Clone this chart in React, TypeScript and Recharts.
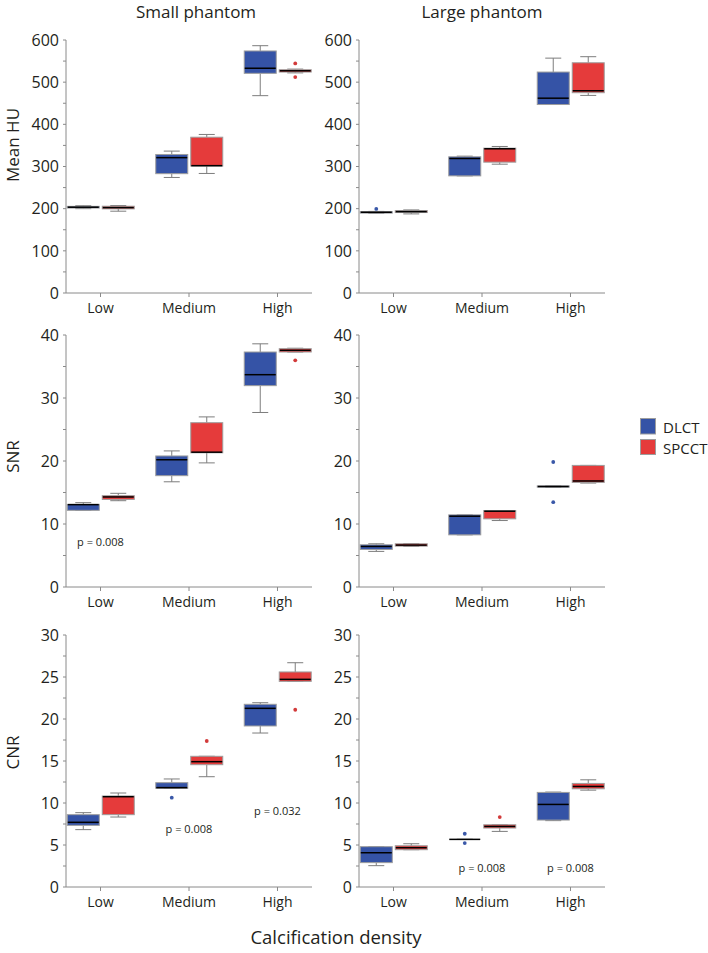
import React from 'react';
import { ComposedChart, Bar, XAxis, YAxis, Scatter } from 'recharts';

const FONT = '"Open Sans", "Noto Sans", sans-serif';
const TXT = '#231f20';
const AXIS = '#8a8a8a';
const WHISK = '#7d7d7d';
const BORDER = '#9d9d9d';
const BLUE = '#3553a6';
const RED = '#e53b3b';
const BLUE_DOT = '#3a58a8';
const RED_DOT = '#d23a3a';

const categories = ['Low', 'Medium', 'High'];
const seriesNames = ['DLCT', 'SPCCT'];
const columnTitles = ['Small phantom', 'Large phantom'];
const rowTitles = ['Mean HU', 'SNR', 'CNR'];
const xTitle = 'Calcification density';

// Box statistics per category: [min, q1, median, q3, max]
const smallHuDlct = [[200, 201.5, 203.5, 205.5, 207], [274, 283, 321, 328.5, 336.5], [468, 521, 533, 574, 586.5]];
const smallHuSpcct = [[194, 199.5, 202.5, 205.8, 207.4], [283.5, 301, 302, 369.5, 376], [522, 524, 527, 529.5, 531]];
const smallHuDlctOut = [[], [], []];
const smallHuSpcctOut = [[], [], [512, 544.5]];

const largeHuDlct = [[189, 189.5, 191.5, 193, 193.5], [277.8, 277.8, 319, 323, 324.5], [447, 447, 462, 524, 557]];
const largeHuSpcct = [[187.6, 190.8, 193, 195.5, 197], [305.5, 310.3, 342, 343.5, 347.5], [468.6, 475, 479.7, 546, 560.4]];
const largeHuDlctOut = [[199.5], [], []];
const largeHuSpcctOut = [[], [], []];

const smallSnrDlct = [[12.17, 12.17, 13.07, 13.12, 13.39], [16.7, 17.67, 20.2, 20.8, 21.6], [27.7, 31.96, 33.7, 37.3, 38.6]];
const smallSnrSpcct = [[13.7, 13.9, 14.29, 14.5, 14.87], [19.7, 21.3, 21.4, 26.08, 27], [37.3, 37.3, 37.57, 37.83, 37.9]];
const smallSnrDlctOut = [[], [], []];
const smallSnrSpcctOut = [[], [], [35.98]];

const largeSnrDlct = [[5.65, 5.96, 6.44, 6.7, 6.86], [8.28, 8.28, 11.24, 11.45, 11.45], [15.85, 15.85, 15.95, 16.05, 16.05]];
const largeSnrSpcct = [[6.45, 6.49, 6.65, 6.86, 6.9], [10.55, 10.82, 12.03, 12.14, 12.14], [16.5, 16.6, 16.83, 19.3, 19.3]];
const largeSnrDlctOut = [[], [], [19.84, 13.46]];
const largeSnrSpcctOut = [[], [], []];

const smallCnrDlct = [[6.83, 7.34, 7.7, 8.61, 8.85], [11.75, 11.75, 11.83, 12.42, 12.86], [18.33, 19.17, 21.27, 21.75, 21.94]];
const smallCnrSpcct = [[8.33, 8.61, 10.75, 10.83, 11.19], [13.13, 14.56, 14.92, 15.56, 15.56], [24.48, 24.48, 24.72, 25.6, 26.7]];
const smallCnrDlctOut = [[], [10.63], []];
const smallCnrSpcctOut = [[], [17.38], [21.1]];

const largeCnrDlct = [[2.54, 2.9, 4.08, 4.8, 4.8], [5.67, 5.67, 5.67, 5.67, 5.67], [7.9, 7.97, 9.83, 11.26, 11.3]];
const largeCnrSpcct = [[4.44, 4.44, 4.68, 4.91, 5.15], [6.62, 7.02, 7.21, 7.41, 7.41], [11.53, 11.69, 11.97, 12.33, 12.76]];
const largeCnrDlctOut = [[], [6.34, 5.23], []];
const largeCnrSpcctOut = [[], [8.32], []];

// p-value annotations: [category index, value, text]
const smallSnrP = [[1, 7.25, 'p = 0.008']];
const smallCnrP = [[2, 6.94, 'p = 0.008'], [3, 9.05, 'p = 0.032']];
const largeCnrP = [[2, 2.38, 'p = 0.008'], [3, 2.38, 'p = 0.008']];

// Axis tick settings
const huTicks = [0, 50, 100, 150, 200, 250, 300, 350, 400, 450, 500, 550, 600];
const snrTicks = [0, 5, 10, 15, 20, 25, 30, 35, 40];
const cnrTicks = [0, 2.5, 5, 7.5, 10, 12.5, 15, 17.5, 20, 22.5, 25, 27.5, 30];

type Stats = number[];

function buildRows(d: Stats[], s: Stats[], dOut: number[][], sOut: number[][]) {
  return categories.map((c, i) => ({
    x: i + 1,
    name: c,
    dTop: Math.max(d[i][4], ...dOut[i]),
    sTop: Math.max(s[i][4], ...sOut[i]),
    d: d[i],
    s: s[i],
    dOut: dOut[i],
    sOut: sOut[i],
  }));
}

const makeBox = (key: 'd' | 's', fill: string, dot: string) => (props: any) => {
  const { x, y, width, height, payload } = props;
  const top = payload[key + 'Top'];
  if (!height || !top) return <g />;
  const y0 = y + height;
  const k = height / top;
  const py = (v: number) => y0 - v * k;
  const [mn, q1, md, q3, mx] = payload[key] as number[];
  const outs = payload[key + 'Out'] as number[];
  const cx = x + width / 2;
  const cap = width / 4;
  return (
    <g>
      <line x1={cx} x2={cx} y1={py(mx)} y2={py(q3)} stroke={WHISK} strokeWidth={1} />
      <line x1={cx} x2={cx} y1={py(q1)} y2={py(mn)} stroke={WHISK} strokeWidth={1} />
      <line x1={cx - cap} x2={cx + cap} y1={py(mx)} y2={py(mx)} stroke={WHISK} strokeWidth={1} />
      <line x1={cx - cap} x2={cx + cap} y1={py(mn)} y2={py(mn)} stroke={WHISK} strokeWidth={1} />
      <rect x={x} y={py(q3)} width={width} height={Math.max(py(q1) - py(q3), 0)} fill={fill} stroke={BORDER} strokeWidth={1} />
      <line x1={x + 0.5} x2={x + width - 0.5} y1={py(md)} y2={py(md)} stroke="#000" strokeWidth={1.5} />
      {outs.map((v, i) => (
        <circle key={i} cx={cx} cy={py(v)} r={1.9} fill={dot} />
      ))}
    </g>
  );
};

const dlctBox = makeBox('d', BLUE, BLUE_DOT);
const spcctBox = makeBox('s', RED, RED_DOT);

const pShape = (props: any) => {
  const { cx, cy, payload } = props;
  return (
    <text x={cx} y={cy} textAnchor="middle" dominantBaseline="central" fontSize={11} fontFamily={FONT} fill={TXT}>
      {payload.text}
    </text>
  );
};

type PanelProps = {
  plotLeft: number;
  plotTop: number;
  plotH: number;
  rows: any[];
  ticks: number[];
  major: number;
  pLabels?: any[];
};

const PLOT_W = 246;
const Y_W = 66;
const M_TOP = 14;

function Panel({ plotLeft, plotTop, plotH, rows, ticks, major, pLabels }: PanelProps) {
  const w = Y_W + PLOT_W + 6;
  const h = M_TOP + plotH + 34;
  const pData = (pLabels || []).map((p) => ({ x: p[0], y: p[1], text: p[2] }));
  const yMax = ticks[ticks.length - 1];
  return (
    <div style={{ position: 'absolute', left: plotLeft - Y_W, top: plotTop - M_TOP }}>
      <ComposedChart width={w} height={h} data={rows} margin={{ top: M_TOP, right: 6, left: 0, bottom: 0 }} barGap={3}>
        <XAxis
          type="number"
          dataKey="x"
          domain={[0.61, 3.39]}
          ticks={[1, 2, 3]}
          interval={0}
          allowDataOverflow
          tickFormatter={(v: number) => categories[v - 1] || ''}
          axisLine={{ stroke: AXIS }}
          tickLine={{ stroke: AXIS }}
          tickSize={4}
          tickMargin={6}
          height={34}
          tick={{ fill: TXT, fontSize: 14, fontFamily: FONT }}
        />
        <YAxis
          type="number"
          domain={[0, yMax]}
          ticks={ticks}
          interval={0}
          allowDataOverflow
          tickFormatter={(v: number) => (Math.abs(v / major - Math.round(v / major)) < 1e-6 ? String(v) : '')}
          axisLine={{ stroke: AXIS }}
          tickLine={{ stroke: AXIS }}
          tickSize={3}
          tickMargin={4}
          width={Y_W}
          tick={{ fill: TXT, fontSize: 16, fontFamily: FONT }}
        />
        <Bar dataKey="dTop" name={seriesNames[0]} barSize={32} shape={dlctBox} isAnimationActive={false} />
        <Bar dataKey="sTop" name={seriesNames[1]} barSize={32} shape={spcctBox} isAnimationActive={false} />
        {pData.length > 0 && <Scatter data={pData} dataKey="y" shape={pShape} isAnimationActive={false} />}
      </ComposedChart>
    </div>
  );
}

const COL_X = [66, 359];
const ROW_Y = [40, 335, 635];
const ROW_H = [253, 252, 252];

export default function App() {
  const panels = [
    { c: 0, r: 0, rows: buildRows(smallHuDlct, smallHuSpcct, smallHuDlctOut, smallHuSpcctOut), ticks: huTicks, major: 100 },
    { c: 1, r: 0, rows: buildRows(largeHuDlct, largeHuSpcct, largeHuDlctOut, largeHuSpcctOut), ticks: huTicks, major: 100 },
    { c: 0, r: 1, rows: buildRows(smallSnrDlct, smallSnrSpcct, smallSnrDlctOut, smallSnrSpcctOut), ticks: snrTicks, major: 10, p: smallSnrP },
    { c: 1, r: 1, rows: buildRows(largeSnrDlct, largeSnrSpcct, largeSnrDlctOut, largeSnrSpcctOut), ticks: snrTicks, major: 10 },
    { c: 0, r: 2, rows: buildRows(smallCnrDlct, smallCnrSpcct, smallCnrDlctOut, smallCnrSpcctOut), ticks: cnrTicks, major: 5, p: smallCnrP },
    { c: 1, r: 2, rows: buildRows(largeCnrDlct, largeCnrSpcct, largeCnrDlctOut, largeCnrSpcctOut), ticks: cnrTicks, major: 5, p: largeCnrP },
  ];
  const rowTitleY = [145, 456.5, 752.5];
  return (
    <div style={{ position: 'absolute', left: 0, top: 0, width: 708, height: 953, background: '#fff', overflow: 'hidden' }}>
      {panels.map((p, i) => (
        <Panel
          key={i}
          plotLeft={COL_X[p.c]}
          plotTop={ROW_Y[p.r]}
          plotH={ROW_H[p.r]}
          rows={p.rows}
          ticks={p.ticks}
          major={p.major}
          pLabels={p.p}
        />
      ))}
      <svg width={708} height={953} style={{ position: 'absolute', left: 0, top: 0, pointerEvents: 'none' }}>
        <text x={196} y={18} textAnchor="middle" fontSize={17} fontFamily={FONT} fill={TXT}>{columnTitles[0]}</text>
        <text x={482} y={18} textAnchor="middle" fontSize={17} fontFamily={FONT} fill={TXT}>{columnTitles[1]}</text>
        {rowTitles.map((t, i) => (
          <text key={t} x={0} y={0} transform={`translate(19, ${rowTitleY[i]}) rotate(-90)`} textAnchor="middle" fontSize={17} fontFamily={FONT} fill={TXT}>
            {t}
          </text>
        ))}
        <text x={336} y={944} textAnchor="middle" fontSize={18.5} fontFamily={FONT} fill={TXT}>{xTitle}</text>
        <rect x={640.5} y={418.5} width={15} height={15.5} fill={BLUE} stroke={BORDER} strokeWidth={1} />
        <rect x={640.5} y={439.5} width={15} height={15} fill={RED} stroke={BORDER} strokeWidth={1} />
        <text x={663} y={432.5} fontSize={15} fontFamily={FONT} fill={TXT}>{seriesNames[0]}</text>
        <text x={663} y={453.5} fontSize={15} fontFamily={FONT} fill={TXT}>{seriesNames[1]}</text>
      </svg>
    </div>
  );
}
